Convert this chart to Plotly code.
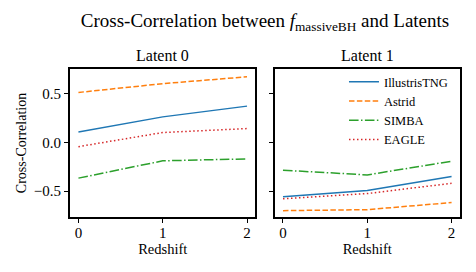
import plotly.graph_objects as go
from plotly.subplots import make_subplots

redshift = [0, 1, 2]
series_names = ["IllustrisTNG", "Astrid", "SIMBA", "EAGLE"]
latent0 = {
    "IllustrisTNG": [0.105, 0.26, 0.37],
    "Astrid": [0.51, 0.60, 0.67],
    "SIMBA": [-0.367, -0.19, -0.17],
    "EAGLE": [-0.045, 0.10, 0.14],
}
latent1 = {
    "IllustrisTNG": [-0.558, -0.494, -0.35],
    "Astrid": [-0.70, -0.69, -0.617],
    "SIMBA": [-0.286, -0.334, -0.194],
    "EAGLE": [-0.579, -0.525, -0.42],
}
colors = {"IllustrisTNG": "#1f77b4", "Astrid": "#ff7f0e", "SIMBA": "#2ca02c", "EAGLE": "#d62728"}
dashes = {"IllustrisTNG": "solid", "Astrid": "5.5px,2.4px",
          "SIMBA": "9.6px,2.4px,1.5px,2.4px", "EAGLE": "1.5px,2.5px"}

font = "Liberation Serif"

fig = make_subplots(rows=1, cols=2, horizontal_spacing=0.049,
                    subplot_titles=("Latent 0", "Latent 1"))

for col, data in ((1, latent0), (2, latent1)):
    for name in series_names:
        fig.add_trace(go.Scatter(
            x=redshift, y=data[name], mode="lines", name=name,
            line=dict(color=colors[name], dash=dashes[name], width=1.5),
            showlegend=(col == 2),
        ), row=1, col=col)

axis_common = dict(showline=True, mirror=True, linewidth=2, linecolor="black",
                   ticks="outside", ticklen=4, tickwidth=1, tickcolor="black",
                   showgrid=False, zeroline=False,
                   tickfont=dict(family=font, size=15, color="black"))

for col in (1, 2):
    fig.update_xaxes(range=[-0.1, 2.1], tickvals=[0, 1, 2], ticktext=["0", "1", "2"],
                     ticklabelstandoff=-3,
                     title=dict(text="Redshift", font=dict(family=font, size=14.5, color="black"), standoff=2),
                     row=1, col=col, **axis_common)
    fig.update_yaxes(range=[-0.765, 0.75], tickvals=[-0.5, 0.0, 0.5],
                     ticktext=["\u22120.5", "0.0", "0.5"],
                     row=1, col=col, **axis_common)

fig.update_yaxes(showticklabels=False, row=1, col=2)
fig.update_yaxes(title=dict(text="Cross-Correlation", font=dict(family=font, size=14, color="black"), standoff=4),
                 row=1, col=1)

for ann in fig.layout.annotations:
    ann.font = dict(family=font, size=16, color="black")
    ann.yshift = 3

fig.update_layout(
    width=476, height=272,
    margin=dict(l=70, r=16, t=69, b=55),
    paper_bgcolor="white", plot_bgcolor="white",
    font=dict(family=font, color="black"),
    title=dict(text="Cross-Correlation between <i>f</i><sub>massiveBH</sub> and Latents",
               xref="paper", x=0.5, xanchor="center", y=0.925, yanchor="middle",
               font=dict(family=font, size=19, color="black")),
    legend=dict(x=0.982, xanchor="right", y=1.012, yanchor="top",
                bgcolor="rgba(0,0,0,0)", borderwidth=0,
                font=dict(family=font, size=12.5, color="black"),
                tracegroupgap=0, itemwidth=30),
)

fig.write_html("out.html", config={"displayModeBar": False},
               post_script="document.body.style.margin='0';")
